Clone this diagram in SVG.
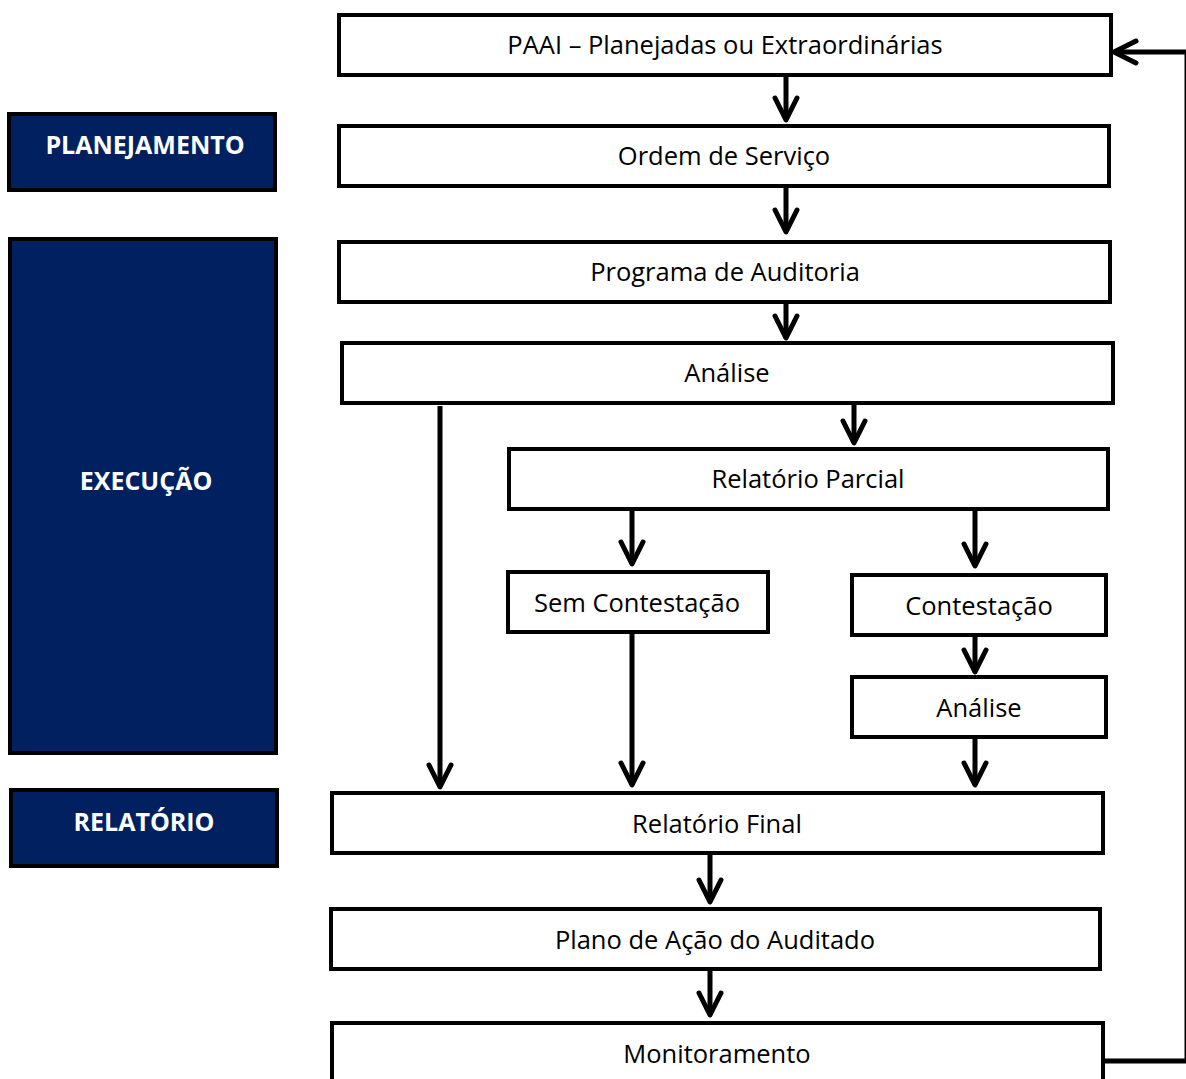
<svg xmlns="http://www.w3.org/2000/svg" width="1186" height="1079" viewBox="0 0 1186 1079">
<style>
.box{fill:#fff;stroke:#000;stroke-width:4}
.phase{fill:#002060;stroke:#000;stroke-width:4}
.t{font-family:"Open Sans","Noto Sans",sans-serif;font-size:25.5px;fill:#000;text-anchor:middle;dominant-baseline:central}
.p{font-family:"Open Sans","Noto Sans",sans-serif;font-size:25px;font-weight:bold;fill:#fff;text-anchor:middle;dominant-baseline:central}
.c{fill:none;stroke:#000;stroke-width:5;stroke-linecap:round;stroke-linejoin:round}
.s{fill:none;stroke:#000;stroke-width:5}
</style>
<rect width="1186" height="1079" fill="#fff"/>
<g id="phase-planejamento"><rect class="phase" x="9" y="114" width="266" height="76"/><text class="p" x="145" y="144">PLANEJAMENTO</text></g>
<g id="phase-execucao"><rect class="phase" x="10" y="239" width="266" height="514"/><text class="p" x="146" y="480">EXECUÇÃO</text></g>
<g id="phase-relatorio"><rect class="phase" x="11" y="790" width="266" height="76"/><text class="p" x="144" y="821">RELATÓRIO</text></g>

<g id="n-paai"><rect class="box" x="339" y="15" width="772" height="60"/><text class="t" x="725" y="44">PAAI – Planejadas ou Extraordinárias</text></g>
<g id="n-ordem"><rect class="box" x="339" y="126" width="770" height="60"/><text class="t" x="724" y="155">Ordem de Serviço</text></g>
<g id="n-programa"><rect class="box" x="339" y="242" width="771" height="60"/><text class="t" x="725" y="271">Programa de Auditoria</text></g>
<g id="n-analise"><rect class="box" x="342" y="343" width="771" height="60"/><text class="t" x="727" y="372">Análise</text></g>
<g id="n-parcial"><rect class="box" x="509" y="449" width="599" height="60"/><text class="t" x="808" y="478">Relatório Parcial</text></g>
<g id="n-sem"><rect class="box" x="508" y="572" width="260" height="60"/><text class="t" x="637" y="602">Sem Contestação</text></g>
<g id="n-contest"><rect class="box" x="852" y="575" width="254" height="60"/><text class="t" x="979" y="605">Contestação</text></g>
<g id="n-analise2"><rect class="box" x="852" y="677" width="254" height="60"/><text class="t" x="979" y="707">Análise</text></g>
<g id="n-final"><rect class="box" x="332" y="793" width="771" height="60"/><text class="t" x="717" y="823">Relatório Final</text></g>
<g id="n-plano"><rect class="box" x="331" y="909" width="769" height="60"/><text class="t" x="715" y="939">Plano de Ação do Auditado</text></g>
<g id="n-monit"><rect class="box" x="332" y="1023" width="771" height="70"/><text class="t" x="717" y="1053">Monitoramento</text></g>

<g id="connectors">
<path class="s" d="M786 75V120"/><path class="c" d="M775 98L786 120L797 98"/>
<path class="s" d="M786 186V232"/><path class="c" d="M775 210L786 232L797 210"/>
<path class="s" d="M786 302V338"/><path class="c" d="M775 316L786 338L797 316"/>
<path class="s" d="M854 403V443"/><path class="c" d="M843 421L854 443L865 421"/>
<path class="s" d="M632 509V564"/><path class="c" d="M621 542L632 564L643 542"/>
<path class="s" d="M975 509V566"/><path class="c" d="M964 544L975 566L986 544"/>
<path class="s" d="M975 635V672"/><path class="c" d="M964 650L975 672L986 650"/>
<path class="s" d="M975 737V785"/><path class="c" d="M964 763L975 785L986 763"/>
<path class="s" d="M440 406V787"/><path class="c" d="M429 765L440 787L451 765"/>
<path class="s" d="M632 632V785"/><path class="c" d="M621 763L632 785L643 763"/>
<path class="s" d="M710 853V902"/><path class="c" d="M699 880L710 902L721 880"/>
<path class="s" d="M710 969V1015"/><path class="c" d="M699 993L710 1015L721 993"/>
<path class="s" d="M1103 1061H1187V52H1114"/><path class="c" d="M1136 41L1114 52L1136 63"/>
</g>
</svg>
